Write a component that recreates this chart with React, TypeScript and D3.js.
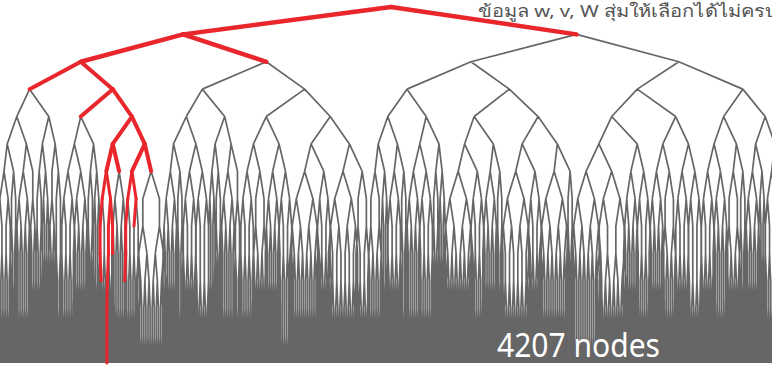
import React, { useMemo } from 'react';
import * as d3 from 'd3';

const W = 772;
const H = 366;

// The search tree is fully binary for its first six levels. Each level-4 node below is listed
// as two level-5 nodes, each with two level-6 nodes. A level-6 node is given as a branching
// pattern for levels 7..13: '1' = every node of that subtree splits in two there, '0' = it
// continues with a single child.
const blockLLLL = [['1101010', '1010100'], ['1110010', '0110100']];
const blockLLLR = [['1010100', '1101000'], ['0111000', '1001010']];
const blockLLRL = [['1101010', '1110100'], ['1011000', '1100100']];
const blockLLRR = [['1101100', '1110010'], ['1101010', '1011101']];
const blockLRLL = [['1110100', '1010010'], ['1101100', '1100110']];
const blockLRLR = [['1100100', '1011000'], ['1110010', '0101010']];
const blockLRRL = [['1101010', '1011100'], ['1110100', '1101001']];
const blockLRRR = [['1111010', '1101100'], ['1110110', '1010110']];
const blockRLLL = [['1011010', '1100100'], ['1101100', '1010010']];
const blockRLLR = [['1110010', '1101010'], ['1011000', '1101000']];
const blockRLRL = [['1111100', '1101010'], ['1110100', '1010100']];
const blockRLRR = [['1110110', '1101100'], ['1111010', '1011000']];
const blockRRLL = [['1111001', '1101110'], ['1110100', '1101010']];
const blockRRLR = [['1110100', '1011010'], ['1101100', '1100110']];
const blockRRRL = [['1101100', '1110010'], ['1011100', '1010100']];
const blockRRRR = [['1110100', '1101000'], ['1101010', '1010100']];

const blocks = [
  blockLLLL, blockLLLR, blockLLRL, blockLLRR, blockLRLL, blockLRLR, blockLRRL, blockLRRR,
  blockRLLL, blockRLLR, blockRLRL, blockRLRR, blockRRLL, blockRRLR, blockRRRL, blockRRRR,
];

// Highlighted (red) paths from the root: 0 = first child, 1 = second child.
const redPaths = [
  '1',
  '01',
  '000',
  '0010',
  '001101',
  '001111',
  '0011000001',
  '001100110',
  '0011001000000',
  '0011100000',
  '00111010',
];

const MAX_DEPTH = 13;
const SPREAD_DEPTH = 6; // below this level the sub-trees fan out a little wider and overlap
const SPREAD = 1.3;
const titleText = 'ข้อมูล w, v, W สุ่มให้เลือกได้ไม่ครบ';
const nodeLabel = '4207 nodes';

type TNode = { id: string; children?: TNode[] };

function buildPattern(pattern: string, depth: number, id: string): TNode {
  const node: TNode = { id };
  if (depth < MAX_DEPTH) {
    const split = pattern[depth - 6] === '1';
    node.children = split
      ? [buildPattern(pattern, depth + 1, id + '0'), buildPattern(pattern, depth + 1, id + '1')]
      : [buildPattern(pattern, depth + 1, id + '0')];
  }
  return node;
}

function buildNested(spec: any, depth: number, id: string): TNode {
  if (typeof spec === 'string') return buildPattern(spec, depth, id);
  return { id, children: spec.map((s: any, i: number) => buildNested(s, depth + 1, id + i)) };
}

function buildTop(list: any[], depth: number, id: string): TNode {
  if (list.length === 1) return buildNested(list[0], depth, id);
  const h = list.length / 2;
  return {
    id,
    children: [buildTop(list.slice(0, h), depth + 1, id + '0'), buildTop(list.slice(h), depth + 1, id + '1')],
  };
}

export default function App() {
  const { grayD, redEdges } = useMemo(() => {
    const root = d3.hierarchy(buildTop(blocks, 0, ''));
    d3.tree<TNode>().nodeSize([1, 1]).separation(() => 1)(root);
    // place each branching node over the centre of mass of its leaves
    root.eachAfter((n: any) => {
      if (n.children) n.x = d3.mean(n.leaves(), (l: any) => l.x);
    });
    const nodes = root.descendants() as any[];
    const xs = d3.extent(nodes, (n) => n.x) as [number, number];
    const x = d3.scaleLinear().domain(xs).range([-2, 784]);
    const y = d3.scaleLinear().domain([0, MAX_DEPTH]).range([7, 363]);

    nodes.forEach((n) => {
      let a = n;
      while (a.depth > SPREAD_DEPTH) a = a.parent;
      n.px = n.depth > SPREAD_DEPTH ? x(a.x) + (x(n.x) - x(a.x)) * SPREAD : x(n.x);
    });

    const redSet = new Set<string>();
    redPaths.forEach((p) => {
      for (let i = 1; i <= p.length; i++) redSet.add(p.slice(0, i));
    });

    let gray = '';
    const reds: { d: string; w: number }[] = [];
    root.links().forEach((l: any) => {
      const seg = `M${l.source.px.toFixed(2)},${y(l.source.depth).toFixed(2)}L${l.target.px.toFixed(2)},${y(l.target.depth).toFixed(2)}`;
      if (redSet.has(l.target.data.id)) {
        const dep = l.target.depth;
        reds.push({ d: seg, w: dep <= 2 ? 4.5 : dep <= 6 ? 4 : 3 });
      } else {
        gray += seg;
      }
    });
    return { grayD: gray, redEdges: reds };
  }, []);

  return (
    <svg
      width={W}
      height={H}
      style={{ position: 'absolute', left: 0, top: 0, background: '#fff' }}
      fontFamily="Tahoma, 'Noto Sans', 'DejaVu Sans', sans-serif"
    >
      <path d={grayD} stroke="#666666" strokeWidth={1.7} fill="none" />
      {redEdges.map((e, i) => (
        <path key={i} d={e.d} stroke="#e8262b" strokeWidth={e.w} strokeLinecap="round" fill="none" />
      ))}
      <text x={478} y={17} fontSize={17} fill="#555" textLength={300} lengthAdjust="spacingAndGlyphs">
        {titleText}
      </text>
      <text x={497} y={357} fontSize={33} fill="#fff" textLength={163} lengthAdjust="spacingAndGlyphs">
        {nodeLabel}
      </text>
    </svg>
  );
}
